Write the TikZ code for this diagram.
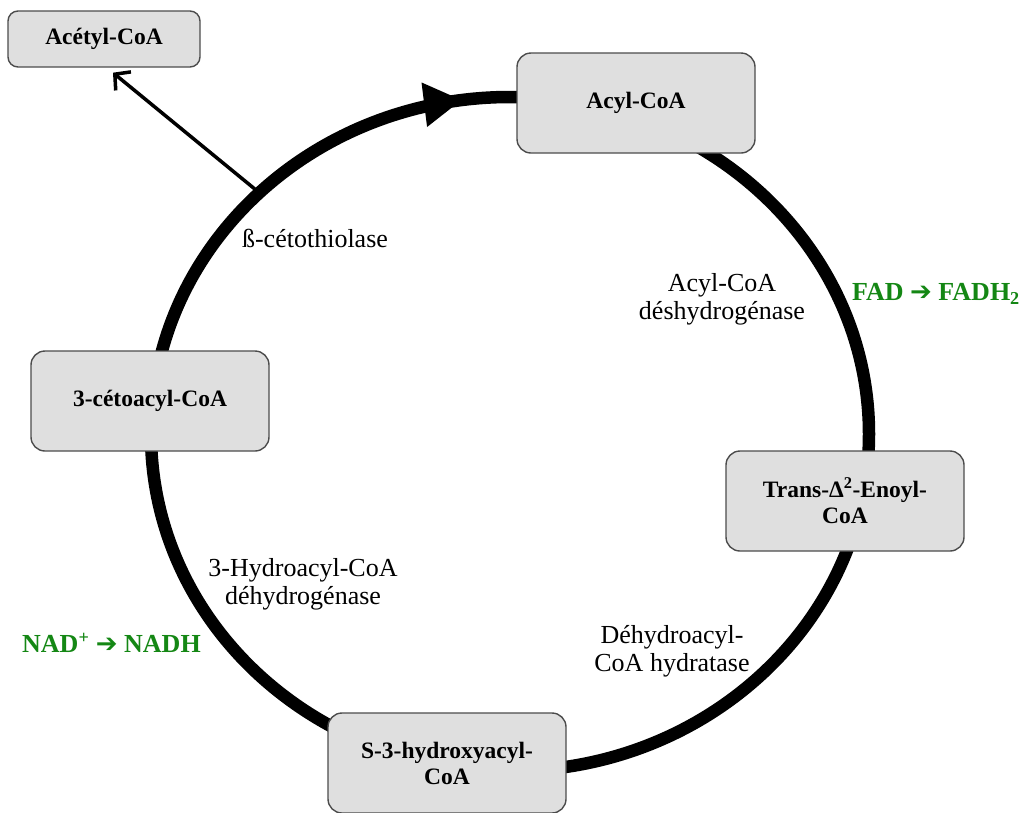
\documentclass[tikz,border=0pt]{standalone}
\usepackage{fontspec}
\setmainfont{Liberation Serif}
\newfontfamily\flechefont{DejaVu Sans}
\usetikzlibrary{arrows.meta,decorations.markings}
\definecolor{vertcof}{RGB}{20,135,20}
\newcommand{\fl}{{\flechefont\bfseries ➔}}

\begin{document}
\begin{tikzpicture}[x=1pt,y=-1pt]
\tikzset{
	molecule/.style={draw=black!70, line width=1.4pt, fill=gray!25, rounded corners=14pt,
		minimum width=238pt, minimum height=100pt, align=center,
		font=\fontsize{23.5}{26}\selectfont\bfseries},
	enzyme/.style={align=center, font=\fontsize{26}{28}\selectfont},
	cofacteur/.style={text=vertcof, anchor=west, inner sep=0pt,
		font=\fontsize{26}{28}\selectfont\bfseries}
}
\useasboundingbox (0,0) rectangle (1034,812);

 % le cycle et sa flèche
  \draw[line width=12.5pt, postaction={decorate},
    decoration={markings, mark=at position 0.728 with {\arrow{Triangle[length=38pt,width=42pt]}}}]
    (510,434) ellipse [x radius=359, y radius=337];

  % les molécules
  \node[molecule, minimum width=192pt, minimum height=56pt, rounded corners=10pt] (acetyl) at (104,39) {Acétyl-CoA};
  \node[molecule] (acyl) at (636,103) {Acyl-CoA};
  \node[molecule] (enoyl) at (845,501) {Trans-Δ\textsuperscript{2}-Enoyl-\\CoA};
  \node[molecule] (hydroxy) at (447,763) {S-3-hydroxyacyl-\\CoA};
  \node[molecule] (cetoacyl) at (150,401) {3-cétoacyl-CoA};

  % départ de l'acétyl-CoA
  \coordinate (thiol) at (256,190);
  \draw[line width=3.5pt, -{Straight Barb[length=11pt,width=24pt]}] (thiol) -- ([shift={(9,5)}]acetyl.south);

% les enzymes
  \node[enzyme] (thiolase) at (315,238) {ß-cétothiolase};
  \node[enzyme] (acyldh) at (722,299) {Acyl-CoA\\déshydrogénase};
  \node[enzyme] (hydratase) at (672,651) {Déhydroacyl-\\CoA hydratase};
  \node[enzyme] (hydroxydh) at (303,584) {3-Hydroacyl-CoA\\déhydrogénase};

% les cofacteurs
  \node[cofacteur] (fad) at (852,294) {FAD \fl{} FADH\textsubscript{2}};
  \node[cofacteur] (nad) at (22,643) {NAD\textsuperscript{+} \fl{} NADH};
\end{tikzpicture}
\end{document}
